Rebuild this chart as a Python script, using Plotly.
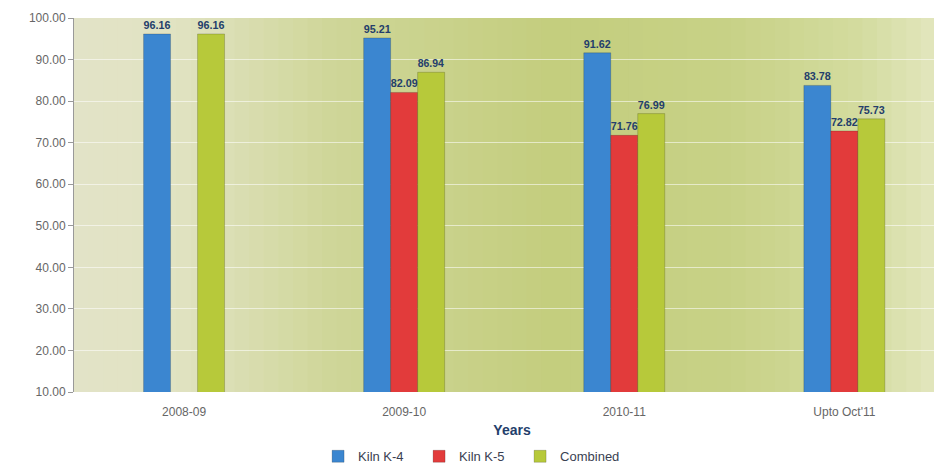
import plotly.graph_objects as go

categories = ["2008-09", "2009-10", "2010-11", "Upto Oct'11"]
kiln_k4 = [96.16, 95.21, 91.62, 83.78]
kiln_k5 = [None, 82.09, 71.76, 72.82]
combined = [96.16, 86.94, 76.99, 75.73]
series_names = ["Kiln K-4", "Kiln K-5", "Combined"]
series_colors = ["#3b86d0", "#e23b3b", "#b7c93a"]
y_ticks = [10, 20, 30, 40, 50, 60, 70, 80, 90, 100]

fig = go.Figure()
for name, vals, col in zip(series_names, [kiln_k4, kiln_k5, combined], series_colors):
    fig.add_trace(go.Bar(
        x=categories, y=vals, name=name,
        marker=dict(color=col, line=dict(color="rgba(0,0,0,0.18)", width=1)),
        text=[f"<b>{v:.2f}</b>" if v is not None else "" for v in vals],
        textposition="outside", cliponaxis=False,
        textfont=dict(family="Liberation Sans", size=11, color="#243e6b"),
    ))

# horizontal gradient background via shapes
stops = [(0.0, (227, 228, 200)), (0.12, (225, 227, 194)), (0.3, (207, 214, 152)),
         (0.55, (196, 206, 126)), (0.75, (200, 210, 135)), (0.9, (212, 220, 160)),
         (1.0, (230, 233, 196))]
n = 60
def interp(t):
    for (a, ca), (b, cb) in zip(stops[:-1], stops[1:]):
        if a <= t <= b:
            f = (t - a) / (b - a)
            return tuple(int(ca[i] + f * (cb[i] - ca[i])) for i in range(3))
    return stops[-1][1]
shapes = []
for i in range(n):
    t0, t1 = i / n, (i + 1) / n
    c = interp((t0 + t1) / 2)
    shapes.append(dict(type="rect", xref="x domain", yref="y domain",
                       x0=t0, x1=t1 + 0.002, y0=0, y1=1, layer="below",
                       line=dict(width=0), fillcolor=f"rgb{c}"))

fig.update_layout(
    width=942, height=468,
    margin=dict(l=66, r=0, t=10, b=84),
    paper_bgcolor="white", plot_bgcolor="rgba(0,0,0,0)",
    shapes=shapes,
    barmode="group", bargap=0.632, bargroupgap=0,
    font=dict(family="Liberation Sans", size=11, color="#555"),
    xaxis=dict(type="category", range=[-0.5, 3.48], showgrid=False, showline=False,
               ticks="outside", ticklen=9, tickcolor="rgba(0,0,0,0)",
               tickfont=dict(size=12, color="#666"),
               title=dict(text="<b>Years</b>", standoff=6,
                          font=dict(family="Liberation Sans", size=14, color="#243e6b"))),
    yaxis=dict(range=[10, 100], tickvals=y_ticks,
               ticktext=[f"{v:.2f}" for v in y_ticks],
               showgrid=True, gridcolor="rgba(255,255,255,0.55)", gridwidth=1,
               showline=True, linecolor="#999", linewidth=1,
               ticks="outside", ticklen=5, tickcolor="#999",
               tickfont=dict(size=12, color="#666"), zeroline=False),
    legend=dict(orientation="h", xref="container", yref="container",
                x=0.49, xanchor="center", y=0.01, yanchor="bottom",
                font=dict(family="Liberation Sans", size=13, color="#3a3f52"),
                itemwidth=30, entrywidth=56, tracegroupgap=0),
    showlegend=True,
)
fig.write_html("out.html")
